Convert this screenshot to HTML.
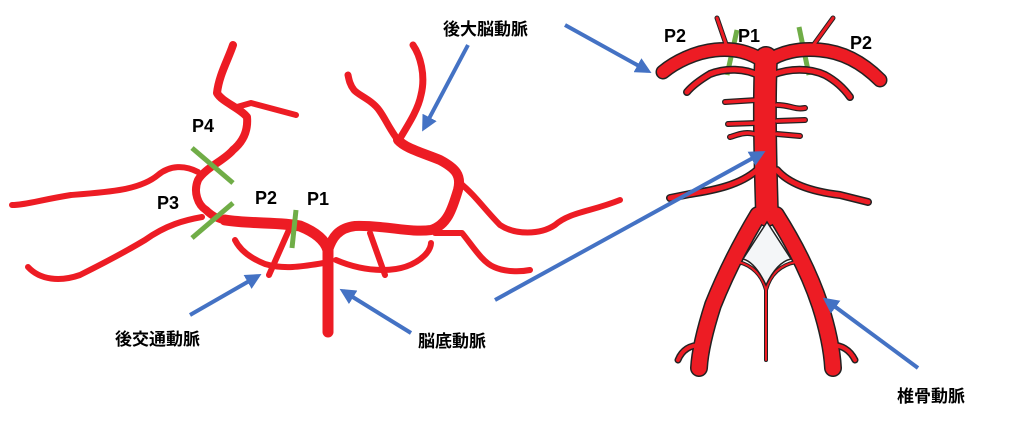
<!DOCTYPE html>
<html><head><meta charset="utf-8"><style>
html,body{margin:0;padding:0;background:#fff;width:1024px;height:424px;overflow:hidden}
svg{display:block}
text{font-family:"Liberation Sans","Noto Sans CJK JP",sans-serif;font-weight:bold;fill:#000}
</style></head><body>
<svg width="1024" height="424" viewBox="0 0 1024 424">
<defs><marker id="ah" markerWidth="4" markerHeight="4" refX="3" refY="2" orient="auto" markerUnits="strokeWidth"><path d="M0,0 L4,2 L0,4 z" fill="#4472c4"/></marker></defs>
<g fill="none" stroke="#ed1c24" stroke-linecap="round" stroke-linejoin="round">
<path stroke-width="8" d="M233,45 C228,60 219,75 217,93 C222,102 240,108 247,117 C248,128 245,140 233,150 C225,160 205,168 198,180 C193,192 198,205 206,210 C212,216 220,220 225,220"/>
<path stroke-width="11" d="M225,220 C250,224 280,222 300,226 C315,232 325,240 328,250"/>
<path stroke-width="6" d="M237,107 L251,103 L296,115"/>
<path stroke-width="6" d="M198,172 C185,165 170,165 158,175 C140,190 110,192 71,195 C40,200 25,205 12,205"/>
<path stroke-width="6" d="M202,217 C185,220 166,225 145,240 C125,252 100,265 80,275 C60,282 40,280 28,267"/>
<path stroke-width="11" d="M328,247 L328,332"/>
<path stroke-width="10" d="M328,250 C332,238 338,228 355,226 C385,225 410,233 431,230 C447,225 452,210 458,190 C462,175 455,168 440,160 C420,152 405,148 398,140"/>
<path stroke-width="7" d="M398,140 C390,130 385,118 379,110 C372,100 358,95 354,90 C350,85 349,80 348,75"/>
<path stroke-width="7" d="M399,140 C408,125 418,110 421,95 C426,75 420,55 413,45"/>
<path stroke-width="6" d="M460,183 C475,195 485,210 500,225 C515,235 540,235 555,225 C570,212 590,212 620,200"/>
<path stroke-width="6" d="M435,233 L462,233 C472,245 482,262 494,267 C505,272 520,272 530,270"/>
<path stroke-width="6" d="M235,240 C240,250 250,258 265,264 C285,270 305,266 324,263"/>
<path stroke-width="6" d="M336,260 C350,266 365,270 383,270 C400,270 415,265 425,255 C430,250 431,245 431,243"/>
<path stroke-width="6" d="M292,223 L269,275"/>
<path stroke-width="6" d="M370,233 L385,275"/>
</g>
<g stroke="#70ad47" stroke-width="5">
<line x1="192" y1="148" x2="233" y2="183"/><line x1="192" y1="238" x2="233" y2="203"/><line x1="296" y1="210" x2="292" y2="248"/>
<line x1="737" y1="30" x2="727" y2="75"/><line x1="799" y1="27" x2="809" y2="75"/>
</g>
<g fill="none" stroke-linecap="round" stroke-linejoin="round">
<g stroke="#222">
<path stroke-width="5" d="M717,18 L727,47 M833,18 L812,47"/>
<path stroke-width="15" d="M765,62 C750,52 735,48 715,50 C695,52 675,62 663,72 M767,62 C780,52 800,48 820,50 C845,52 865,65 880,80"/>
<path stroke-width="8" d="M760,76 C745,68 725,68 710,74 C700,80 692,86 687,92 M772,75 C790,68 810,68 825,75 C838,82 845,90 850,97"/>
<path stroke-width="6" d="M757,100 L725,102 M757,123 L728,124 M757,135 C745,130 735,136 730,137 M777,105 C790,105 795,110 805,108 M777,121 L805,120 M777,134 L800,136"/>
<path stroke-width="8" d="M757,170 C740,185 715,190 690,194 L670,198 M777,170 C790,185 815,192 840,195 L868,202"/>
<path stroke-width="24" d="M766,58 C764,100 765,150 767,215"/>
<path stroke-width="18" d="M758,215 C740,245 725,275 713,305 C705,330 700,350 699,368 M776,215 C795,245 810,275 820,305 C828,330 832,350 833,368"/>
<path stroke-width="7" d="M701,345 C690,345 682,350 678,360 M831,345 C842,345 850,350 855,360"/>
<path stroke-width="4" d="M738,262 C752,265 762,275 766,290 C770,275 780,265 796,262 M766,290 L766,360"/>
</g>
<g stroke="#ed1c24">
<path stroke-width="3" d="M717,18 L727,47 M833,18 L812,47"/>
<path stroke-width="12" d="M765,62 C750,52 735,48 715,50 C695,52 675,62 663,72 M767,62 C780,52 800,48 820,50 C845,52 865,65 880,80"/>
<path stroke-width="5" d="M760,76 C745,68 725,68 710,74 C700,80 692,86 687,92 M772,75 C790,68 810,68 825,75 C838,82 845,90 850,97"/>
<path stroke-width="3.5" d="M757,100 L725,102 M757,123 L728,124 M757,135 C745,130 735,136 730,137 M777,105 C790,105 795,110 805,108 M777,121 L805,120 M777,134 L800,136"/>
<path stroke-width="5" d="M757,170 C740,185 715,190 690,194 L670,198 M777,170 C790,185 815,192 840,195 L868,202"/>
<path stroke-width="21" d="M766,58 C764,100 765,150 767,215"/>
<path stroke-width="15" d="M758,215 C740,245 725,275 713,305 C705,330 700,350 699,368 M776,215 C795,245 810,275 820,305 C828,330 832,350 833,368"/>
<path stroke-width="4" d="M701,345 C690,345 682,350 678,360 M831,345 C842,345 850,350 855,360"/>
<path stroke-width="2" d="M738,262 C752,265 762,275 766,290 C770,275 780,265 796,262 M766,290 L766,360"/>
</g>
</g>
<path d="M767,222 L743,259 Q755,262 766,285 Q777,262 791,259 Z" fill="#f4f6f8" stroke="#222" stroke-width="1.5"/>
<g stroke="#4472c4" stroke-width="4" marker-end="url(#ah)" fill="none">
<line x1="565" y1="25" x2="648" y2="71"/>
<line x1="468" y1="45" x2="424" y2="128"/>
<line x1="495" y1="300" x2="762" y2="153"/>
<line x1="190" y1="315" x2="258" y2="276"/>
<line x1="411" y1="333" x2="343" y2="291"/>
<line x1="918" y1="368" x2="826" y2="300"/>
</g>
<g font-size="18">
<text x="192" y="132">P4</text><text x="157" y="209">P3</text><text x="255" y="204">P2</text><text x="307" y="205">P1</text>
<text x="664" y="42">P2</text><text x="738" y="42">P1</text><text x="850" y="49">P2</text>
</g>
<g font-size="17">
<text x="443" y="35">後大脳動脈</text><text x="115" y="345">後交通動脈</text><text x="418" y="347">脳底動脈</text><text x="897" y="402">椎骨動脈</text>
</g>
</svg>
</body></html>
